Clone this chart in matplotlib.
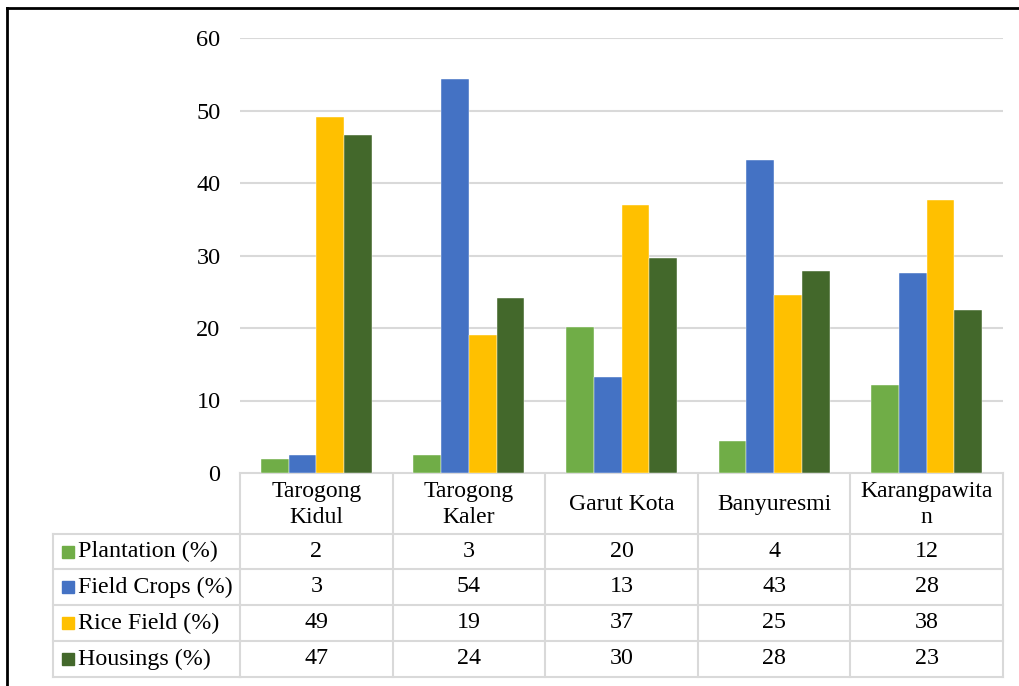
import matplotlib.pyplot as plt
import matplotlib.transforms as mtransforms
import numpy as np

plt.rcParams['font.family'] = ['Liberation Serif', 'DejaVu Serif']

# Categories and series (bar heights, table shows rounded values)
districts = ['Tarogong\nKidul', 'Tarogong\nKaler', 'Garut Kota', 'Banyuresmi', 'Karangpawita\nn']
series = ['Plantation (%)', 'Field Crops (%)', 'Rice Field (%)', 'Housings (%)']
plantation = [1.9, 2.5, 20.1, 4.4, 12.1]
field_crops = [2.5, 54.3, 13.2, 43.2, 27.6]
rice_field = [49.1, 19.0, 37.0, 24.6, 37.7]
housings = [46.6, 24.1, 29.7, 27.9, 22.5]
table_plantation = ['2', '3', '20', '4', '12']
table_field_crops = ['3', '54', '13', '43', '28']
table_rice_field = ['49', '19', '37', '25', '38']
table_housings = ['47', '24', '30', '28', '23']
yticks = [0, 10, 20, 30, 40, 50, 60]

colors = ['#70AD47', '#4472C4', '#FFC000', '#43682B']
values = [plantation, field_crops, rice_field, housings]
table_vals = [table_plantation, table_field_crops, table_rice_field, table_housings]

W, H = 1019, 686
fig = plt.figure(figsize=(W / 100, H / 100), dpi=100)

# overlay in pixel coordinates for border and table
ov = fig.add_axes([0, 0, 1, 1])
ov.set_xlim(0, W)
ov.set_ylim(H, 0)
ov.axis('off')

ax = fig.add_axes([240 / W, (H - 473) / H, 763 / W, 435 / H])
n = len(districts)
x = np.arange(n)
bw = 0.182
for k in range(4):
    ax.bar(x + (k - 1.5) * bw, values[k], bw, color=colors[k], zorder=3,
           edgecolor='white', linewidth=0.3)
ax.set_xlim(-0.5, n - 0.5)
ax.set_ylim(0, 60)
ax.set_yticks(yticks)
ax.tick_params(axis='y', length=0, pad=14, labelsize=17.5)
ax.set_xticks([])
ax.grid(axis='y', color='#d9d9d9', linewidth=1.5, zorder=0)
for s in ax.spines.values():
    s.set_visible(False)

# outer border
ov.plot([7, 7], [8, H], color='black', lw=2)
ov.plot([7, W], [8, 8], color='black', lw=2)

# data table
blend = mtransforms.blended_transform_factory(ax.transData, ov.transData)
gc = '#d9d9d9'
row_y = [473, 534, 569, 605, 641, 677]
left = 53
for i in range(n + 1):
    ov.plot([i - 0.5, i - 0.5], [473, row_y[-1]], color=gc, lw=1.5, transform=blend)
ov.plot([left, left], [row_y[1], row_y[-1]], color=gc, lw=1.5)
ov.plot([-0.5, n - 0.5], [473, 473], color=gc, lw=1.5, transform=blend)
for yy in row_y[1:]:
    ov.plot([left, 240], [yy, yy], color=gc, lw=1.5)
    ov.plot([-0.5, n - 0.5], [yy, yy], color=gc, lw=1.5, transform=blend)

for i, d in enumerate(districts):
    ov.text(i, (row_y[0] + row_y[1]) / 2 + 1, d, ha='center', va='center', fontsize=17,
            linespacing=1.3, transform=blend)

for r in range(4):
    yc = (row_y[r + 1] + row_y[r + 2]) / 2
    ov.add_patch(plt.Rectangle((62, yc - 6), 12, 12, color=colors[r]))
    ov.text(78, yc, series[r], ha='left', va='center', fontsize=17.3)
    for i in range(n):
        ov.text(i, yc, table_vals[r][i], ha='center', va='center', fontsize=17.3,
                transform=blend)

fig.savefig('out.png', dpi=100)
